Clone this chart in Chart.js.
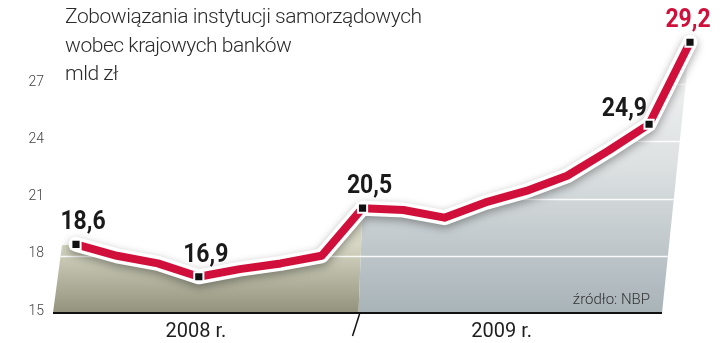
<!DOCTYPE html>
<html lang="pl">
<head>
    <meta charset="UTF-8">
    <title>Zobowiązania instytucji samorządowych</title>
    <script src="https://cdn.jsdelivr.net/npm/chart.js"></script>
    <style>
        body { margin: 0; background: #fff; }
        .wrap { position: relative; width: 720px; height: 343px; }
        .tytul {
            position: absolute; left: 65px; top: 2px;
            font-family: Roboto, sans-serif; font-weight: 300;
            font-size: 21px; line-height: 28.5px; color: #2b2b2b;
            letter-spacing: -0.45px;
        }
    </style>
</head>
<body>
    <div class="wrap">
        <canvas id="myChart" width="720" height="343"></canvas>
        <div class="tytul">Zobowiązania instytucji samorządowych<br>wobec krajowych banków<br>mld zł</div>
    </div>
    <script>
        // miesiace: V.2008 - VIII.2009
        const miesiace = ['V 2008', 'VI 2008', 'VII 2008', 'VIII 2008', 'IX 2008', 'X 2008', 'XI 2008', 'XII 2008',
                          'I 2009', 'II 2009', 'III 2009', 'IV 2009', 'V 2009', 'VI 2009', 'VII 2009', 'VIII 2009'];
        const wartosci = [18.6, 18.0, 17.6, 16.9, 17.3, 17.6, 18.0, 20.5,
                          20.4, 20.0, 20.8, 21.4, 22.2, 23.5, 24.9, 29.2];
        const podpisane = [0, 3, 7, 14, 15];   // punkty z etykieta
        const yTicks = [15, 18, 21, 24, 27];
        const lata = ['2008 r.', '2009 r.'];
        const srodkiLat = [2.93, 10.4];        // polozenie podpisu roku na osi (indeks miesiaca)
        const koniec2008 = 7;                  // ostatni punkt 2008
        const zrodlo = 'źródło: NBP';

        const CZERWONY = '#d0103a';

        // tlo: dwa wielokaty pod linia + siatka + os
        const tloPlugin = {
            id: 'tlo',
            beforeDatasetsDraw(chart) {
                const ctx = chart.ctx;
                const xs = chart.scales.x, ys = chart.scales.y;
                const base = ys.getPixelForValue(15);
                const pts = wartosci.map((v, i) => [xs.getPixelForValue(i), ys.getPixelForValue(v)]);
                const last = pts.length - 1;

                const poly2008 = new Path2D();
                poly2008.moveTo(pts[0][0] - 23, base);
                poly2008.lineTo(pts[0][0] - 14, pts[0][1] + 1);
                for (let i = 0; i <= koniec2008; i++) poly2008.lineTo(pts[i][0], pts[i][1]);
                poly2008.lineTo(pts[koniec2008][0] - 4, base);
                poly2008.closePath();

                const poly2009 = new Path2D();
                poly2009.moveTo(pts[koniec2008][0] - 4, base);
                for (let i = koniec2008; i <= last; i++) poly2009.lineTo(pts[i][0], pts[i][1]);
                poly2009.lineTo(pts[last][0] - 28, base);
                poly2009.closePath();

                ctx.save();
                let g = ctx.createLinearGradient(0, pts[0][1], 0, base);
                g.addColorStop(0, '#d6d6c4');
                g.addColorStop(1, '#92927c');
                ctx.fillStyle = g;
                ctx.fill(poly2008);

                g = ctx.createLinearGradient(0, pts[last][1], 0, base);
                g.addColorStop(0, '#f6f6f6');
                g.addColorStop(0.45, '#dde1e2');
                g.addColorStop(1, '#a8b3b8');
                ctx.fillStyle = g;
                ctx.fill(poly2009);

                // biale linie siatki tylko w obszarze wypelnienia
                ctx.save();
                const clipPath = new Path2D();
                clipPath.addPath(poly2008);
                clipPath.addPath(poly2009);
                ctx.clip(clipPath);
                ctx.strokeStyle = 'rgba(255,255,255,0.9)';
                ctx.lineWidth = 1.3;
                yTicks.slice(1).forEach(t => {
                    const y = Math.round(ys.getPixelForValue(t)) + 0.5;
                    ctx.beginPath();
                    ctx.moveTo(0, y);
                    ctx.lineTo(chart.width, y);
                    ctx.stroke();
                });
                ctx.restore();

                // zrodlo
                ctx.fillStyle = '#333';
                ctx.font = '300 15px Roboto, sans-serif';
                ctx.textAlign = 'right';
                ctx.textBaseline = 'alphabetic';
                ctx.fillText(zrodlo, pts[last][0] - 40, base - 9);

                // os x
                ctx.strokeStyle = '#111';
                ctx.lineWidth = 2;
                ctx.beginPath();
                ctx.moveTo(pts[0][0] - 23, base);
                ctx.lineTo(pts[last][0] - 28, base);
                ctx.stroke();

                // kreska miedzy latami
                ctx.lineWidth = 1.5;
                ctx.beginPath();
                ctx.moveTo(pts[koniec2008][0] - 3, base + 1);
                ctx.lineTo(pts[koniec2008][0] - 10, base + 23);
                ctx.stroke();

                // podpisy lat
                ctx.fillStyle = '#1e1e1e';
                ctx.font = '400 20px Roboto, sans-serif';
                ctx.textAlign = 'center';
                lata.forEach((txt, i) => {
                    ctx.fillText(txt, xs.getPixelForValue(srodkiLat[i]), base + 24);
                });
                ctx.restore();
            }
        };

        // cien pod biala obwodka linii (dataset 1 = obwodka, rysowana pierwsza)
        const cienPlugin = {
            id: 'cien',
            beforeDatasetDraw(chart, args) {
                if (args.index === 1) {
                    chart.ctx.save();
                    chart.ctx.shadowColor = 'rgba(0,0,0,0.35)';
                    chart.ctx.shadowBlur = 9;
                    chart.ctx.shadowOffsetY = 3;
                }
            },
            afterDatasetDraw(chart, args) {
                if (args.index === 1) chart.ctx.restore();
            }
        };

        // etykiety wartosci
        const etykietyPlugin = {
            id: 'etykiety',
            afterDatasetsDraw(chart) {
                const ctx = chart.ctx;
                const meta = chart.getDatasetMeta(0);
                ctx.save();
                ctx.font = 'bold 25px Roboto, sans-serif';
                ctx.textBaseline = 'alphabetic';
                podpisane.forEach(i => {
                    const p = meta.data[i];
                    const txt = wartosci[i].toFixed(1).replace('.', ',');
                    const ostatni = i === wartosci.length - 1;
                    ctx.fillStyle = ostatni ? CZERWONY : '#1a1a1a';
                    let x = p.x + (ostatni ? -2 : 7), y = p.y - 15, align = 'center';
                    if (i === wartosci.length - 2) { x = p.x - 2; y = p.y - 8; align = 'right'; }
                    // wezsze litery - jak w oryginale
                    ctx.save();
                    ctx.translate(x, y);
                    ctx.scale(0.92, 1);
                    ctx.textAlign = align;
                    ctx.fillText(txt, 0, 0);
                    ctx.restore();
                });
                ctx.restore();
            }
        };

        const ctx = document.getElementById('myChart').getContext('2d');
        const chart = new Chart(ctx, {
            type: 'line',
            data: {
                labels: miesiace,
                datasets: [{
                    data: wartosci,
                    borderColor: CZERWONY,
                    borderWidth: 8,
                    borderJoinStyle: 'round',
                    tension: 0,
                    clip: false,
                    pointStyle: 'rect',
                    pointRadius: c => podpisane.includes(c.dataIndex) ? 6.5 : 0,
                    pointBackgroundColor: '#111',
                    pointBorderColor: '#fff',
                    pointBorderWidth: 2
                }, {
                    data: wartosci,
                    borderColor: '#fff',
                    borderWidth: 15,
                    borderJoinStyle: 'round',
                    borderCapStyle: 'round',
                    pointRadius: 0,
                    tension: 0,
                    clip: false
                }]
            },
            options: {
                responsive: false,
                animation: false,
                layout: { padding: { top: 27, right: 30, bottom: 30, left: 0 } },
                plugins: {
                    legend: { display: false },
                    tooltip: { enabled: false }
                },
                scales: {
                    x: { display: false },
                    y: {
                        min: 15,
                        max: 30,
                        afterBuildTicks: scale => { scale.ticks = yTicks.map(v => ({ value: v })); },
                        afterFit: scale => {
                            scale.width = 76;
                            // bez dodatkowego odstepu nad/pod osia
                            scale.paddingTop = 0;
                            scale.paddingBottom = 0;
                        },
                        grid: { display: false, drawTicks: false },
                        border: { display: false },
                        ticks: {
                            padding: 32,
                            labelOffset: -2,
                            color: '#444',
                            font: { family: 'Roboto', weight: '300', size: 14 }
                        }
                    }
                }
            },
            plugins: [tloPlugin, cienPlugin, etykietyPlugin]
        });
    </script>
</body>
</html>
